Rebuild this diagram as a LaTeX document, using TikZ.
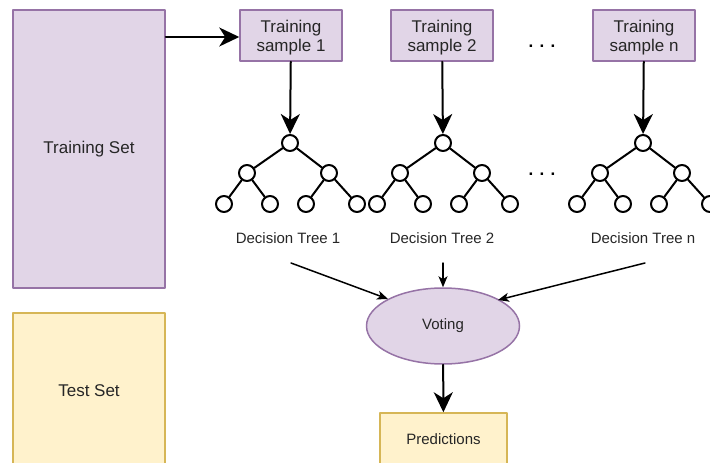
\documentclass[tikz,border=0pt]{standalone}
\usepackage{fontspec}
\setmainfont{Liberation Sans}
\usetikzlibrary{shapes.geometric,arrows.meta}
\definecolor{lilac}{HTML}{E1D5E7}
\definecolor{lilacline}{HTML}{9673A6}
\definecolor{cream}{HTML}{FFF2CC}
\definecolor{creamline}{HTML}{D6B656}
\definecolor{ink}{HTML}{262626}
\tikzset{
	purplebox/.style={draw=lilacline, fill=lilac, line width=1.5pt, text=ink, align=center, font=\fontsize{17}{19}\selectfont},
	yellowbox/.style={draw=creamline, fill=cream, line width=1.5pt, text=ink, align=center},
	samplebox/.style={purplebox, minimum width=102, minimum height=51, inner sep=0pt, text depth=0pt},
	knot/.style={circle, draw, fill=white, line width=2pt, minimum size=16, inner sep=0pt},
	small/.style={font=\fontsize{15}{18}\selectfont, text=ink},
	bigarrow/.style={line width=2pt, -{Stealth[length=20pt,width=19pt,inset=6pt]}},
	thinarrow/.style={line width=1.5pt, -{Stealth[length=11pt,width=9pt,inset=3pt]}}
}
\begin{document}
\begin{tikzpicture}[x=1pt, y=-1pt, line join=round, line cap=round]
	\clip (0,0) rectangle (710,463);
	% Dữ liệu
	\node[purplebox, minimum width=152, minimum height=278] (trainset) at (89,149) {Training Set};
	\node[yellowbox, minimum width=152, minimum height=156, font=\fontsize{17}{20}\selectfont] (testset) at (89,391) {Test Set};
	\node[samplebox] (s1) at (291,35.5) {Training\\sample 1};
	\node[samplebox] (s2) at (442,35.5) {Training\\sample 2};
	\node[samplebox] (sn) at (644,35.5) {Training\\sample n};
	\node[anchor=base, font=\bfseries\fontsize{17}{20}\selectfont] (dotsA) at (542,47) {. . .};
	\node[anchor=base, font=\bfseries\fontsize{17}{20}\selectfont] (dotsB) at (542,175) {. . .};
	% Cây 1
	\node[knot] (r1) at (290,143) {};
	\node[knot] (a1) at (247,173) {};
	\node[knot] (b1) at (329,173) {};
	\node[knot] (l11) at (224,204) {};
	\node[knot] (l12) at (270,204) {};
	\node[knot] (l13) at (306,204) {};
	\node[knot] (l14) at (357,204) {};
	\draw[line width=2pt] (r1)--(a1) (r1)--(b1) (a1)--(l11) (a1)--(l12) (b1)--(l13) (b1)--(l14);
	% Cây 2
	\node[knot] (r2) at (443,143) {};
	\node[knot] (a2) at (400,173) {};
	\node[knot] (b2) at (482,173) {};
	\node[knot] (l21) at (377,204) {};
	\node[knot] (l22) at (423,204) {};
	\node[knot] (l23) at (459,204) {};
	\node[knot] (l24) at (510,204) {};
	\draw[line width=2pt] (r2)--(a2) (r2)--(b2) (a2)--(l21) (a2)--(l22) (b2)--(l23) (b2)--(l24);
	% Cây n
	\node[knot] (rn) at (643,143) {};
	\node[knot] (an) at (600,173) {};
	\node[knot] (bn) at (682,173) {};
	\node[knot] (ln1) at (577,204) {};
	\node[knot] (ln2) at (623,204) {};
	\node[knot] (ln3) at (659,204) {};
	\node[knot] (ln4) at (710,204) {};
	\draw[line width=2pt] (rn)--(an) (rn)--(bn) (an)--(ln1) (an)--(ln2) (bn)--(ln3) (bn)--(ln4);
	\node[small] (d1) at (288,238) {Decision Tree 1};
	\node[small] (d2) at (442,238) {Decision Tree 2};
	\node[small] (dn) at (643,238) {Decision Tree n};
	% Bỏ phiếu
	\node[ellipse, draw=lilacline, fill=lilac, line width=1.5pt, minimum width=153, minimum height=76, small] (vote) at (443,326) {Voting};
	\node[yellowbox, small, minimum width=127, minimum height=52] (pred) at (443.5,439) {Predictions};
	\coordinate (v1) at (291,263);
	\coordinate (v2) at (443,263);
	\coordinate (vn) at (645,263);
	\coordinate (e1) at (388,299);
	\coordinate (en) at (498,300);
	% Mũi tên
	\draw[bigarrow] (trainset.east |- 0,37) -- (s1.west |- 0,37);
	\draw[bigarrow] (s1) -- (r1);
	\draw[bigarrow] (s2) -- (r2);
	\draw[bigarrow] (sn) -- (rn);
	\draw[thinarrow] (v1) -- (e1);
	\draw[thinarrow] (v2) -- (vote);
	\draw[thinarrow] (vn) -- (en);
	\draw[bigarrow] (vote) -- (pred);
\end{tikzpicture}
\end{document}
